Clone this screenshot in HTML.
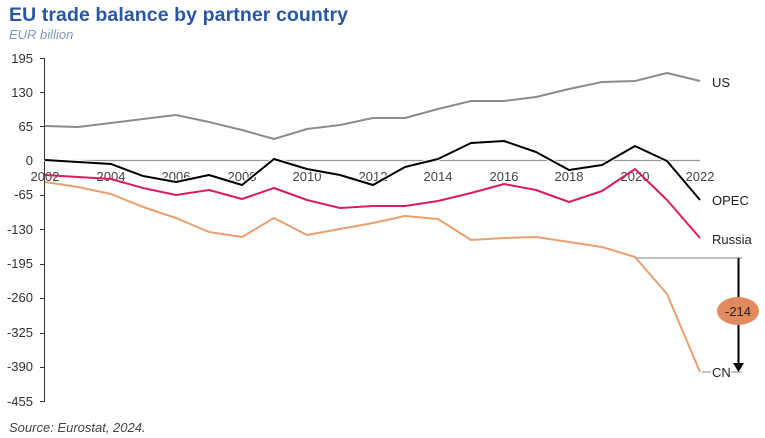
<!DOCTYPE html>
<html><head><meta charset="utf-8"><style>
body{margin:0;background:#fff;width:765px;height:438px;overflow:hidden}
svg{display:block}
text{font-family:"Liberation Sans",sans-serif}
</style></head><body>
<svg width="765" height="438" viewBox="0 0 765 438">
<text x="9" y="21" font-size="19.5" font-weight="bold" fill="#2a56a5" textLength="339">EU trade balance by partner country</text>
<text x="9" y="39" font-size="13" font-style="italic" fill="#7d97c0">EUR billion</text>
<g font-size="13" fill="#333" text-anchor="end">
<text x="33" y="63">195</text><text x="33" y="97">130</text><text x="33" y="131">65</text><text x="33" y="165">0</text>
<text x="33" y="199">-65</text><text x="33" y="234">-130</text><text x="33" y="268">-195</text><text x="33" y="302">-260</text>
<text x="33" y="337">-325</text><text x="33" y="371">-390</text><text x="33" y="406">-455</text>
</g>
<g stroke="#333" stroke-width="1">
<line x1="44.5" y1="58" x2="44.5" y2="402"/>
<line x1="40" y1="58.5" x2="44" y2="58.5"/><line x1="40" y1="92.5" x2="44" y2="92.5"/><line x1="40" y1="126.5" x2="44" y2="126.5"/>
<line x1="40" y1="195.5" x2="44" y2="195.5"/><line x1="40" y1="229.5" x2="44" y2="229.5"/><line x1="40" y1="264.5" x2="44" y2="264.5"/>
<line x1="40" y1="298.5" x2="44" y2="298.5"/><line x1="40" y1="333.5" x2="44" y2="333.5"/><line x1="40" y1="367.5" x2="44" y2="367.5"/><line x1="40" y1="401.5" x2="44" y2="401.5"/>
</g>
<line x1="44" y1="160.5" x2="700" y2="160.5" stroke="#999" stroke-width="1.2"/>
<g font-size="13" fill="#444" text-anchor="middle">
<text x="45" y="181">2002</text><text x="111" y="181">2004</text><text x="176" y="181">2006</text><text x="242" y="181">2008</text>
<text x="307" y="181">2010</text><text x="373" y="181">2012</text><text x="438" y="181">2014</text><text x="504" y="181">2016</text>
<text x="569" y="181">2018</text><text x="635" y="181">2020</text><text x="700" y="181">2022</text>
</g>
<g fill="none" stroke-width="2" stroke-linejoin="round">
<polyline stroke="#8c8c8c" points="45,126 78,127 111,123 143,119 176,115 209,122 242,130 274,139 307,129 340,125 373,118 405,118 438,109 471,101 504,101 536,97 569,89 602,82 635,81 667,73 700,81"/>
<polyline stroke="#e8a070" points="45,182 78,187 111,194 143,207 176,218 209,232 242,237 274,218 307,235 340,229 373,223 405,216 438,219 471,240 504,238 536,237 569,242 602,247 635,257 667,294 700,372"/>
<polyline stroke="#d81e5b" points="45,175 78,177 111,179 143,188 176,195 209,190 242,199 274,188 307,200 340,208 373,206 405,206 438,201 471,193 504,184 536,190 569,202 602,191 635,169 667,200 700,238"/>
<polyline stroke="#fff" stroke-width="4" points="45,160 78,162 111,164 143,176 176,182 209,175 242,185 274,159 307,169 340,175 373,185 405,167 438,159 471,143 504,141 536,152 569,170 602,165 635,146 667,161 700,200"/>
<polyline stroke="#000" points="45,160 78,162 111,164 143,176 176,182 209,175 242,185 274,159 307,169 340,175 373,185 405,167 438,159 471,143 504,141 536,152 569,170 602,165 635,146 667,161 700,200"/>
</g>
<line x1="635" y1="258" x2="742" y2="258" stroke="#999" stroke-width="1.2"/>
<line x1="738.5" y1="258" x2="738.5" y2="365" stroke="#000" stroke-width="2"/>
<polygon points="733,363 744,363 738.5,372" fill="#000"/>
<ellipse cx="738" cy="311" rx="21" ry="14" fill="#e08a5e"/>
<text x="738" y="316" font-size="13" text-anchor="middle" fill="#222">-214</text>
<line x1="702" y1="372" x2="711" y2="372" stroke="#888"/>
<line x1="731" y1="372" x2="742" y2="372" stroke="#888"/>
<g font-size="13" fill="#222">
<text x="712" y="87">US</text><text x="712" y="205">OPEC</text><text x="712" y="244">Russia</text><text x="712" y="377">CN</text>
</g>
<text x="9" y="432" font-size="13" font-style="italic" fill="#444">Source: Eurostat, 2024.</text>
</svg>
</body></html>
